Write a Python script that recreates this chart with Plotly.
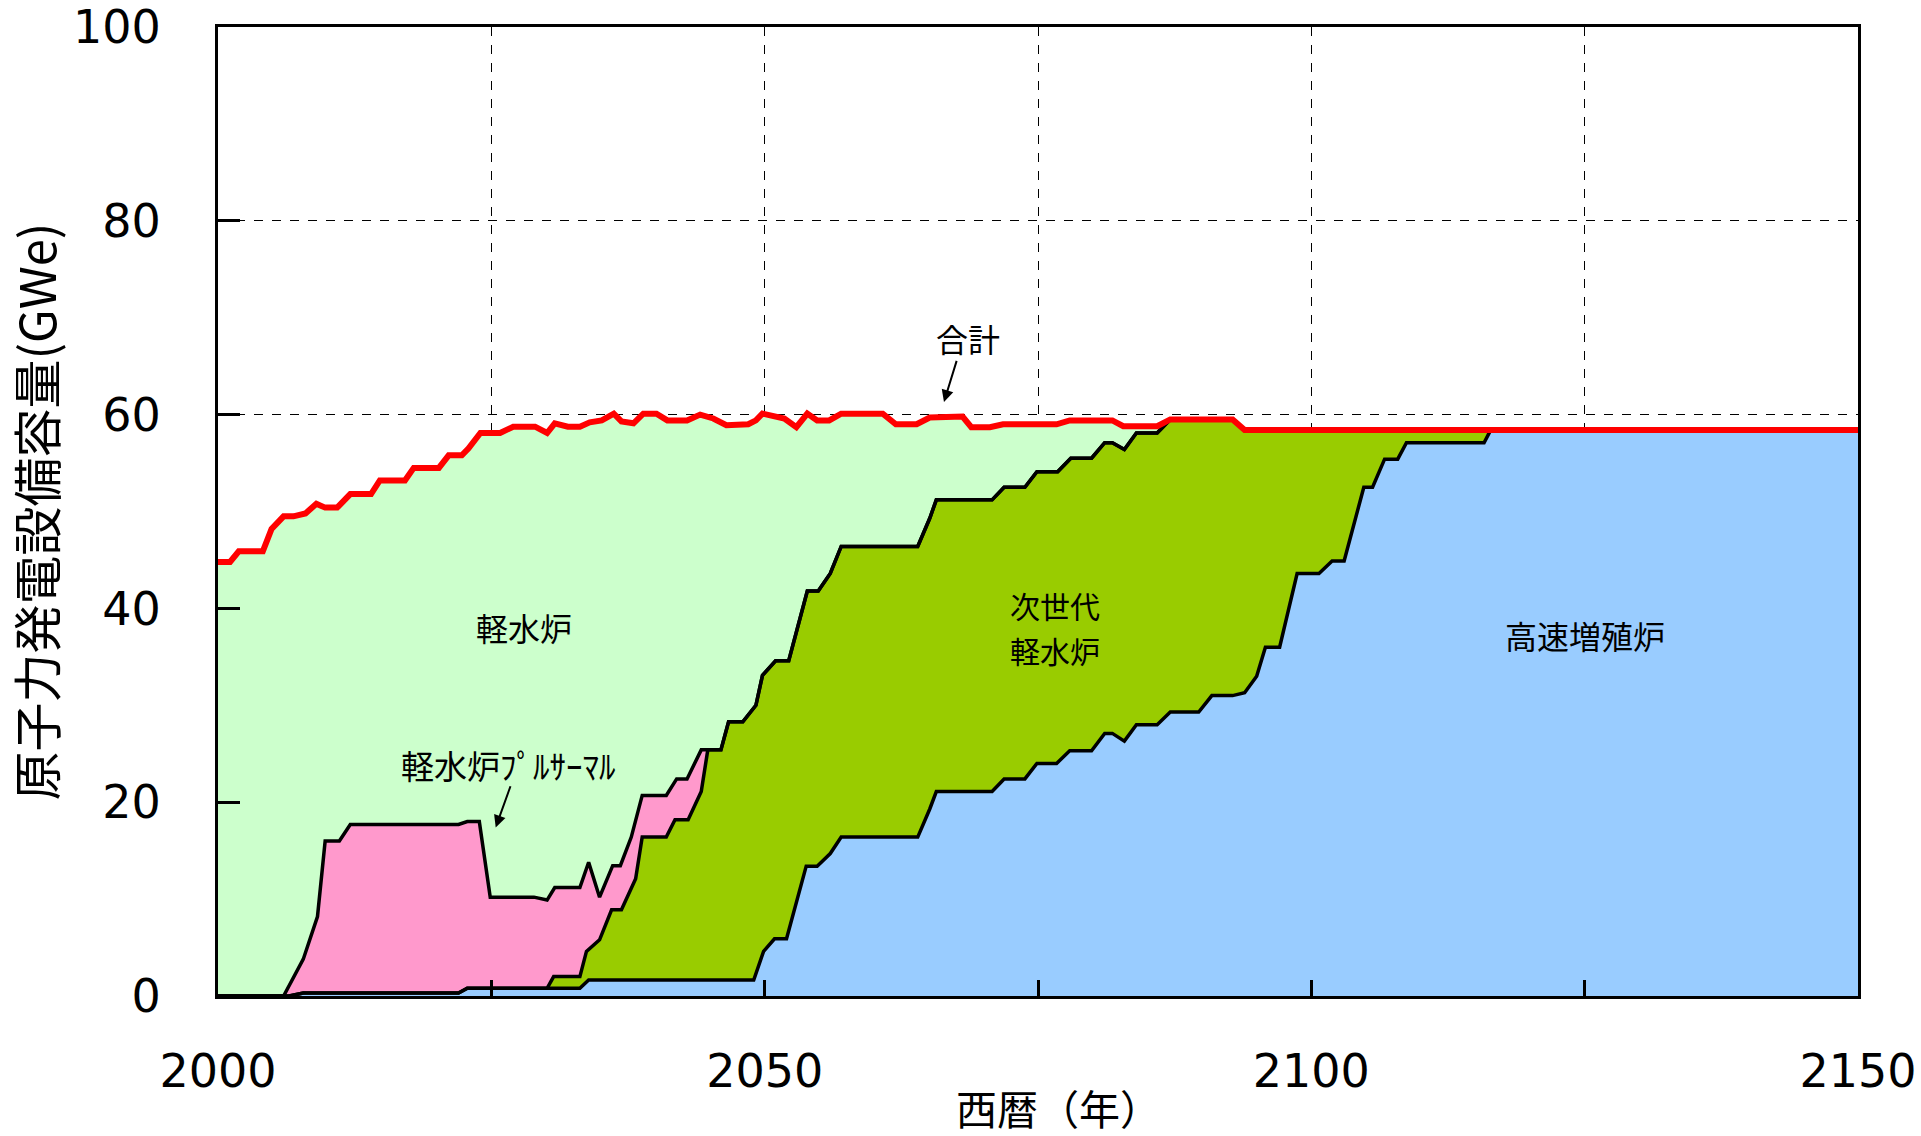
import plotly.graph_objects as go

# ---------------- data ----------------
# boundary between 高速増殖炉 (bottom) and 次世代軽水炉
fbr_years = [2000, 2006.5, 2007.8, 2022.0, 2022.8, 2033.1, 2033.9, 2049.0, 2049.9, 2050.9,
             2052.0, 2053.8, 2054.8, 2056.0, 2057.0, 2064.0, 2065.1, 2065.7, 2070.8, 2071.9,
             2073.8, 2074.9, 2076.7, 2077.9, 2079.9, 2081.1, 2081.8, 2082.9, 2084.0, 2085.9,
             2087.1, 2089.7, 2090.9, 2092.8, 2093.9, 2095.0, 2095.8, 2097.1, 2098.7, 2100.7,
             2101.9, 2103.0, 2104.8, 2105.6, 2106.7, 2107.9, 2108.7, 2115.8, 2116.4, 2150]
fbr_top = [0, 0, 0.3, 0.3, 0.8, 0.8, 1.65, 1.65, 4.6, 5.9,
           5.9, 13.4, 13.4, 14.7, 16.4, 16.4, 19.3, 21.1, 21.1, 22.4,
           22.4, 24.0, 24.0, 25.3, 25.3, 27.1, 27.1, 26.3, 28.0, 28.0,
           29.3, 29.3, 31.0, 31.0, 31.3, 33.0, 36.0, 36.0, 43.6, 43.6,
           44.9, 44.9, 52.5, 52.5, 55.4, 55.4, 57.1, 57.1, 58.4, 58.4]

# upper edge of 次世代軽水炉 (cumulative)
ngl_years = [2000, 2006.5, 2007.8, 2022.0, 2022.8, 2030.1, 2030.7, 2033.1, 2033.7, 2034.9,
             2036.0, 2036.9, 2038.2, 2038.8, 2041.0, 2041.8, 2043.0, 2044.2, 2044.8, 2046.0,
             2046.7, 2048.0, 2049.2, 2049.8, 2051.0, 2052.2, 2053.9, 2054.9, 2056.0, 2057.0,
             2064.0, 2065.1, 2065.7, 2070.8, 2071.9, 2073.8, 2074.9, 2076.8, 2078.0, 2079.9,
             2081.1, 2081.8, 2082.9, 2084.0, 2085.9, 2087.1, 2092.8, 2093.9, 2150]
ngl_top = [0, 0, 0.3, 0.3, 0.8, 0.8, 2.0, 2.0, 4.6, 5.8,
           8.9, 8.9, 12.1, 16.4, 16.4, 18.2, 18.2, 21.1, 25.4, 25.4,
           28.3, 28.3, 30.0, 33.1, 34.6, 34.6, 41.8, 41.8, 43.6, 46.4,
           46.4, 49.3, 51.2, 51.2, 52.5, 52.5, 54.1, 54.1, 55.5, 55.5,
           57.1, 57.1, 56.4, 58.1, 58.1, 59.5, 59.5, 58.4, 58.4]

# upper edge of 軽水炉プルサーマル (cumulative); after 2044.8 it coincides with ngl_top
plu_years = [2000, 2006.0, 2007.8, 2009.1, 2009.8, 2011.1, 2012.1, 2022.0, 2022.8, 2023.9,
             2024.9, 2028.9, 2030.1, 2030.8, 2033.1, 2033.9, 2034.9, 2036.1, 2036.8, 2037.8,
             2038.8, 2041.0, 2041.95, 2042.9, 2044.2, 2044.8]
plu_top = [0, 0, 3.8, 8.2, 16.0, 16.0, 17.7, 17.7, 18.0, 18.0,
           10.2, 10.2, 9.9, 11.2, 11.2, 13.8, 10.2, 13.45, 13.45, 16.4,
           20.7, 20.7, 22.4, 22.4, 25.4, 25.4]

# 合計 (total)
total_years = [2000, 2001.1, 2001.9, 2004.1, 2004.9, 2006.0, 2006.9, 2008.0, 2009.0, 2009.8,
               2010.9, 2012.1, 2014.0, 2014.8, 2017.1, 2017.9, 2020.2, 2021.1, 2022.3, 2022.9,
               2024.0, 2025.8, 2027.0, 2029.0, 2030.1, 2030.8, 2032.0, 2033.1, 2034.0, 2035.1,
               2036.2, 2036.9, 2038.0, 2038.9, 2040.1, 2041.1, 2042.9, 2044.1, 2045.3, 2046.5,
               2048.5, 2049.2, 2049.8, 2051.8, 2052.9, 2053.9, 2054.8, 2055.9, 2057.0, 2060.8,
               2062.0, 2063.9, 2065.1, 2068.1, 2068.9, 2070.6, 2071.8, 2076.7, 2077.9, 2081.8,
               2082.8, 2085.9, 2087.1, 2092.8, 2093.9, 2150]
total = [44.8, 44.8, 45.9, 45.9, 48.2, 49.5, 49.5, 49.8, 50.8, 50.4,
         50.4, 51.8, 51.8, 53.2, 53.2, 54.5, 54.5, 55.8, 55.8, 56.5,
         58.1, 58.1, 58.75, 58.75, 58.1, 59.1, 58.75, 58.75, 59.2, 59.4,
         60.1, 59.3, 59.1, 60.1, 60.1, 59.4, 59.4, 60.0, 59.6, 58.9,
         59.0, 59.4, 60.1, 59.6, 58.7, 60.1, 59.4, 59.4, 60.1, 60.1,
         59.0, 59.0, 59.7, 59.8, 58.7, 58.7, 59.0, 59.0, 59.4, 59.4,
         58.8, 58.8, 59.5, 59.5, 58.4, 58.4]

x_tickvals = [2000, 2025, 2050, 2075, 2100, 2125, 2150]
x_ticktext = ["2000", "", "2050", "", "2100", "", "2150"]
y_tickvals = [0, 20, 40, 60, 80, 100]

# extend pluthermal edge with the part where it coincides with next-gen edge
plu_x = plu_years + [x for x in ngl_years if x > plu_years[-1]]
plu_y = plu_top + [v for x, v in zip(ngl_years, ngl_top) if x > plu_years[-1]]

C_FBR = "#99CCFF"
C_NGL = "#99CC00"
C_PLU = "#FF99CC"
C_LWR = "#CCFFCC"

fig = go.Figure()
fig.add_trace(go.Scatter(x=fbr_years, y=fbr_top, mode="lines", line=dict(width=0),
                         fill="tozeroy", fillcolor=C_FBR, name="高速増殖炉", hoverinfo="skip"))
fig.add_trace(go.Scatter(x=ngl_years, y=ngl_top, mode="lines", line=dict(width=0),
                         fill="tonexty", fillcolor=C_NGL, name="次世代軽水炉", hoverinfo="skip"))
fig.add_trace(go.Scatter(x=plu_x, y=plu_y, mode="lines", line=dict(width=0),
                         fill="tonexty", fillcolor=C_PLU, name="軽水炉プルサーマル", hoverinfo="skip"))
fig.add_trace(go.Scatter(x=total_years, y=total, mode="lines", line=dict(width=0),
                         fill="tonexty", fillcolor=C_LWR, name="軽水炉", hoverinfo="skip"))

# black boundary lines
for xs, ys in [(fbr_years, fbr_top), (ngl_years, ngl_top), (plu_x, plu_y)]:
    fig.add_trace(go.Scatter(x=xs, y=ys, mode="lines", line=dict(color="black", width=3.5),
                             hoverinfo="skip"))
# total red line
fig.add_trace(go.Scatter(x=total_years, y=total, mode="lines",
                         line=dict(color="#FF0000", width=6), name="合計", hoverinfo="skip"))

tick_font = dict(family="DejaVu Sans", size=46, color="black")
cjk = "Noto Sans CJK JP"

fig.update_layout(
    width=1921, height=1136,
    margin=dict(l=218, r=63, t=27, b=140, autoexpand=False),
    paper_bgcolor="white", plot_bgcolor="white",
    showlegend=False,
    xaxis=dict(range=[2000, 2150], tickvals=x_tickvals, ticktext=x_ticktext,
               ticks="inside", ticklen=16, tickwidth=3, tickcolor="black",
               showline=True, linewidth=3, linecolor="black", mirror=True,
               showgrid=True, gridcolor="black", gridwidth=1, griddash="dash",
               zeroline=False, tickfont=tick_font, ticklabelstandoff=33, automargin=False),
    yaxis=dict(range=[0, 100], tickvals=y_tickvals,
               ticks="inside", ticklen=22, tickwidth=3, tickcolor="black",
               showline=True, linewidth=3, linecolor="black", mirror=True,
               showgrid=True, gridcolor="black", gridwidth=1, griddash="dash",
               zeroline=False, tickfont=tick_font, ticklabelstandoff=45, automargin=False),
)

ann_font = dict(family=cjk, size=32, color="black")
ngl_font = dict(family=cjk, size=30, color="black")
fig.add_annotation(x=2028.0, y=38.1, text="軽水炉", showarrow=False, font=ann_font)
fig.add_annotation(x=2076.6, y=40.3, text="次世代", showarrow=False, font=ngl_font)
fig.add_annotation(x=2076.6, y=35.75, text="軽水炉", showarrow=False, font=ngl_font)
fig.add_annotation(x=2125.0, y=37.3, text="高速増殖炉", showarrow=False, font=ann_font)
fig.add_annotation(x=2026.6, y=23.8, text="軽水炉ﾌﾟﾙｻｰﾏﾙ", showarrow=False,
                   font=dict(family=cjk, size=33, color="black"))
fig.add_annotation(x=2068.6, y=67.9, text="合計", showarrow=False, font=ann_font)
# arrows
fig.add_annotation(x=2025.4, y=17.4, ax=2026.8, ay=21.8, axref="x", ayref="y", text="",
                   showarrow=True, arrowhead=2, arrowsize=1.2, arrowwidth=2, arrowcolor="black")
fig.add_annotation(x=2066.4, y=61.3, ax=2067.6, ay=65.7, axref="x", ayref="y", text="",
                   showarrow=True, arrowhead=2, arrowsize=1.2, arrowwidth=2, arrowcolor="black")

# axis titles
fig.add_annotation(xref="paper", yref="paper", x=0, y=0.5, xshift=-184, xanchor="center",
                   yanchor="middle", text="原子力発電設備容量(GWe)",
                   textangle=-90, showarrow=False, font=dict(family=cjk, size=49, color="black"))
fig.add_annotation(xref="paper", yref="paper", x=0.5, y=0, yshift=-111, xshift=20,
                   xanchor="center", yanchor="middle", text="西暦（年）",
                   showarrow=False, font=dict(family=cjk, size=41, color="black"))

fig.write_html("out.html", config={"displayModeBar": False},
               post_script="document.body.style.margin='0';")
